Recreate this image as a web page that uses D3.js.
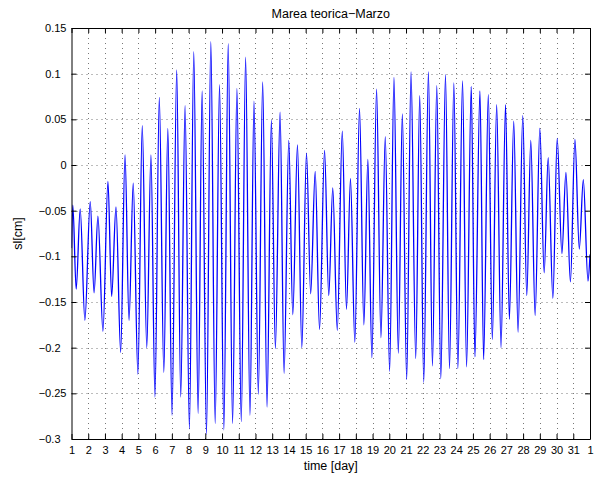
<!DOCTYPE html>
<html><head><meta charset="utf-8">
<script src="https://cdn.jsdelivr.net/npm/d3@7"></script>
<style>
body{margin:0;background:#fff;}
text{font-family:"Liberation Sans",Arial,Helvetica,sans-serif;fill:#000;}
</style>
</head><body>
<svg id="chart" width="597" height="479"></svg>
<script>
// ---- data (extrema) ----
const chartTitle = "Marea teorica\u2212Marzo";
const xLabel = "time [day]";
const yLabel = "sl[cm]";
const xTicks = [1,2,3,4,5,6,7,8,9,10,11,12,13,14,15,16,17,18,19,20,21,22,23,24,25,26,27,28,29,30,31,32];
const xTickLabels = ["1","2","3","4","5","6","7","8","9","10","11","12","13","14","15","16","17","18","19","20","21","22","23","24","25","26","27","28","29","30","31","1"];
const yTicks = [0.15,0.1,0.05,0,-0.05,-0.1,-0.15,-0.2,-0.25,-0.3];
const yTickLabels = ["0.15","0.1","0.05","0","\u22120.05","\u22120.1","\u22120.15","\u22120.2","\u22120.25","\u22120.3"];
const days = [1.00,1.08,1.28,1.52,1.80,2.12,2.35,2.58,2.88,3.18,3.40,3.66,3.94,4.20,4.44,4.69,4.97,5.23,5.50,5.75,5.99,6.25,6.52,6.76,7.01,7.29,7.53,7.79,8.05,8.31,8.57,8.81,9.07,9.33,9.59,9.85,10.11,10.37,10.63,10.89,11.15,11.41,11.67,11.91,12.17,12.43,12.69,12.95,13.19,13.47,13.71,13.99,14.23,14.51,14.77,15.05,15.30,15.57,15.83,16.13,16.38,16.62,16.89,17.19,17.44,17.68,17.94,18.22,18.48,18.72,18.96,19.24,19.50,19.76,20.02,20.28,20.54,20.78,21.04,21.30,21.58,21.82,22.06,22.34,22.58,22.84,23.08,23.36,23.60,23.86,24.10,24.38,24.62,24.90,25.12,25.42,25.64,25.92,26.16,26.42,26.68,26.95,27.18,27.44,27.70,27.98,28.22,28.46,28.72,29.00,29.26,29.50,29.78,30.04,30.32,30.56,30.83,31.10,31.36,31.60,31.88,32.00];
const seaLevel = [-0.091,-0.044,-0.136,-0.048,-0.170,-0.040,-0.140,-0.056,-0.182,-0.018,-0.144,-0.046,-0.205,0.011,-0.170,-0.020,-0.229,0.043,-0.200,0.011,-0.254,0.074,-0.227,0.040,-0.274,0.104,-0.254,0.065,-0.289,0.124,-0.272,0.081,-0.295,0.135,-0.283,0.088,-0.290,0.133,-0.283,0.084,-0.281,0.118,-0.274,0.070,-0.251,0.091,-0.265,0.049,-0.201,0.058,-0.228,0.027,-0.164,0.022,-0.200,0.013,-0.141,-0.007,-0.180,0.016,-0.143,-0.025,-0.181,0.037,-0.158,-0.015,-0.194,0.062,-0.175,0.006,-0.211,0.083,-0.189,0.031,-0.226,0.096,-0.206,0.056,-0.235,0.102,-0.212,0.076,-0.238,0.102,-0.220,0.087,-0.234,0.099,-0.223,0.090,-0.223,0.092,-0.221,0.086,-0.210,0.081,-0.213,0.077,-0.191,0.066,-0.200,0.066,-0.169,0.048,-0.183,0.054,-0.143,0.027,-0.165,0.040,-0.118,0.008,-0.146,0.029,-0.097,-0.008,-0.128,0.028,-0.092,-0.016,-0.127,-0.098];

// ---- layout ----
const L = 71.5, R = 590, T = 28, B = 439;
const svg = d3.select("#chart");
const x = d3.scaleLinear().domain([1, 32]).range([L, R]);
const y = d3.scaleLinear().domain([-0.3, 0.15]).range([B, T]);

// grid
const grid = svg.append("g").attr("stroke", "#555").attr("stroke-width", 0.8).attr("stroke-dasharray", "1,4").attr("fill", "none");
grid.selectAll("line.v").data(xTicks.slice(1, -1)).join("line")
  .attr("x1", d => Math.round(x(d)) + 0.5).attr("x2", d => Math.round(x(d)) + 0.5)
  .attr("y1", T).attr("y2", B);
grid.selectAll("line.h").data(yTicks.slice(1, -1)).join("line")
  .attr("y1", d => Math.round(y(d)) + 0.5).attr("y2", d => Math.round(y(d)) + 0.5)
  .attr("x1", L).attr("x2", R);

// line
svg.append("clipPath").attr("id", "clip").append("rect")
  .attr("x", L).attr("y", T).attr("width", R - L).attr("height", B - T);
const pts = days.map((d, i) => [d, seaLevel[i]]);
svg.append("path").datum(pts)
  .attr("clip-path", "url(#clip)")
  .attr("fill", "none").attr("stroke", "#0000ff").attr("stroke-width", 1.3)
  .attr("d", d3.line().x(d => x(d[0])).y(d => y(d[1])).curve(d3.curveMonotoneX));

// axes
const xb = d3.axisBottom(x).tickValues(xTicks).tickFormat((d, i) => xTickLabels[i])
  .tickSizeInner(-5).tickSizeOuter(0).tickPadding(7);
svg.append("g").attr("transform", `translate(0,${B})`).call(xb);
const xt = d3.axisTop(x).tickValues(xTicks).tickFormat("").tickSizeInner(-5).tickSizeOuter(0);
svg.append("g").attr("transform", `translate(0,${T})`).call(xt);
const yl = d3.axisLeft(y).tickValues(yTicks).tickFormat((d, i) => yTickLabels[i])
  .tickSizeInner(-5).tickSizeOuter(0).tickPadding(5);
const gy = svg.append("g").attr("transform", `translate(${L},0)`).call(yl);
const yr = d3.axisRight(y).tickValues(yTicks).tickFormat("").tickSizeInner(-5).tickSizeOuter(0);
svg.append("g").attr("transform", `translate(${R},0)`).call(yr);

svg.selectAll(".domain").attr("stroke", "#000").attr("stroke-width", 1);
svg.selectAll(".tick line").attr("stroke", "#000");
svg.selectAll(".tick text").attr("font-size", "11px").attr("font-family", '"Liberation Sans",Arial,sans-serif');
// labels with a single decimal sit one digit further left
gy.selectAll(".tick text").attr("x", (d, i) => {
  const s = yTickLabels[i];
  const dec = s.includes(".") ? s.split(".")[1].length : 0;
  return dec === 1 ? -11 : -5;
});

// titles
svg.append("text").attr("x", (L + R) / 2).attr("y", 18).attr("text-anchor", "middle")
  .attr("font-size", "12.5px").text(chartTitle);
svg.append("text").attr("x", (L + R) / 2).attr("y", 470).attr("text-anchor", "middle")
  .attr("font-size", "12.5px").text(xLabel);
svg.append("text").attr("transform", `translate(22,${(T + B) / 2}) rotate(-90)`).attr("text-anchor", "middle")
  .attr("font-size", "12.5px").text(yLabel);
</script>
</body></html>
